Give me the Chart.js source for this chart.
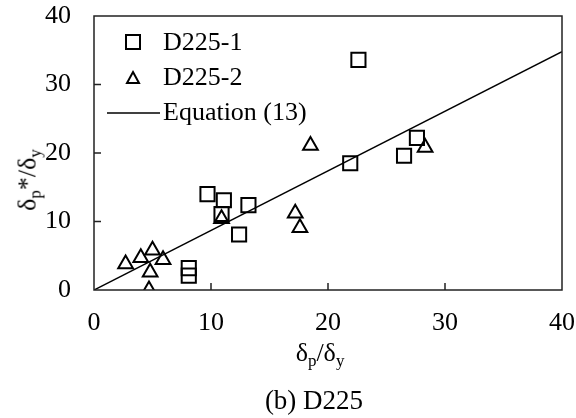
<!DOCTYPE html>
<html>
<head>
<meta charset="utf-8">
<script src="https://cdn.jsdelivr.net/npm/chart.js@4/dist/chart.umd.min.js"></script>
<style>
    body { margin: 0; background: #fff; }
    #wrap { position: relative; width: 576px; height: 418px; font-family: "Liberation Serif", "Times New Roman", serif; color: #000; }
    #chart { position: absolute; left: 0; top: 0; }
    .lbl { position: absolute; font-size: 26px; white-space: nowrap; line-height: 1; }
    .lbl sub { font-size: 17px; vertical-align: -5px; }
    #ytitle { left: 29px; top: 180px; transform: translate(-50%, -50%) rotate(-90deg); }
    #xtitle { left: 320px; top: 354px; transform: translate(-50%, -50%); }
    #caption { left: 314px; top: 400px; transform: translate(-50%, -50%); font-size: 27px; }
</style>
</head>
<body>
<div id="wrap">
    <canvas id="chart" width="576" height="418"></canvas>
    <div class="lbl" id="ytitle">&delta;<sub>p</sub>*/&delta;<sub>y</sub></div>
    <div class="lbl" id="xtitle">&delta;<sub>p</sub>/&delta;<sub>y</sub></div>
    <div class="lbl" id="caption">(b) D225</div>
</div>
<script>
// D225-1 specimens (squares)
const d1X = [9.7, 11.1, 10.9, 13.2, 12.4, 8.1, 8.1, 22.6, 27.6, 21.9, 26.5];
const d1Y = [14.0, 13.1, 11.1, 12.4, 8.1, 3.2, 2.1, 33.6, 22.2, 18.5, 19.6];
// D225-2 specimens (triangles)
const d2X = [2.7, 4.0, 5.0, 5.9, 4.8, 4.7, 10.9, 17.2, 17.6, 18.5, 28.3];
const d2Y = [3.8, 4.7, 5.8, 4.4, 2.6, 0.0, 10.4, 11.2, 9.1, 21.1, 20.8];
// Equation (13) line end points
const eqX = [0, 40];
const eqY = [0, 34.8];

const axisTicks = [0, 10, 20, 30, 40];
const legendLabels = ['D225-1', 'D225-2', 'Equation (13)'];

const toPoints = (xs, ys) => xs.map((x, i) => ({ x: x, y: ys[i] }));
const FONT = '"Liberation Serif", "Times New Roman", serif';

// frame, inward tick marks and legend inside the plot
const framePlugin = {
    id: 'frame',
    afterDraw(chart) {
        const ctx = chart.ctx;
        const a = chart.chartArea;
        const xs = chart.scales.x;
        const ys = chart.scales.y;
        ctx.save();
        ctx.strokeStyle = '#222';
        ctx.lineWidth = 1.5;
        ctx.strokeRect(a.left, a.top, a.right - a.left, a.bottom - a.top);
        ctx.beginPath();
        axisTicks.slice(1, -1).forEach(v => {
            const px = xs.getPixelForValue(v);
            ctx.moveTo(px, a.bottom);
            ctx.lineTo(px, a.bottom - 7);
            const py = ys.getPixelForValue(v);
            ctx.moveTo(a.left, py);
            ctx.lineTo(a.left + 7, py);
        });
        ctx.stroke();

        // legend
        ctx.strokeStyle = '#000';
        ctx.lineWidth = 2;
        ctx.strokeRect(126, 35, 14, 14);
        ctx.beginPath();
        ctx.moveTo(133, 72);
        ctx.lineTo(139, 83);
        ctx.lineTo(127, 83);
        ctx.closePath();
        ctx.stroke();
        ctx.lineWidth = 1.5;
        ctx.beginPath();
        ctx.moveTo(107, 113);
        ctx.lineTo(160, 113);
        ctx.stroke();
        ctx.fillStyle = '#000';
        ctx.font = '26px ' + FONT;
        ctx.textBaseline = 'middle';
        ctx.fillText(legendLabels[0], 163, 43);
        ctx.fillText(legendLabels[1], 163, 78);
        ctx.fillText(legendLabels[2], 163, 113);
        ctx.restore();
    }
};

new Chart(document.getElementById('chart'), {
    type: 'scatter',
    data: {
        datasets: [{
            label: legendLabels[0],
            data: toPoints(d1X, d1Y),
            pointStyle: 'rect',
            pointRadius: 10,
            pointHoverRadius: 10,
            borderColor: '#000',
            backgroundColor: 'rgba(0,0,0,0)',
            borderWidth: 2
        }, {
            label: legendLabels[1],
            data: toPoints(d2X, d2Y),
            pointStyle: 'triangle',
            pointRadius: 8.5,
            pointHoverRadius: 8.5,
            borderColor: '#000',
            backgroundColor: 'rgba(0,0,0,0)',
            borderWidth: 2
        }, {
            type: 'line',
            label: legendLabels[2],
            data: toPoints(eqX, eqY),
            borderColor: '#000',
            borderWidth: 1.5,
            pointRadius: 0,
            fill: false
        }]
    },
    options: {
        responsive: false,
        animation: false,
        layout: { padding: { top: 16, right: 14, left: 0, bottom: 0 } },
        plugins: {
            legend: { display: false },
            tooltip: { enabled: false }
        },
        scales: {
            x: {
                type: 'linear',
                min: 0,
                max: 40,
                afterFit: scale => {
                    scale.height = 128;
                    scale.paddingLeft = 0;
                    scale.paddingRight = 0;
                },
                afterBuildTicks: scale => { scale.ticks = axisTicks.map(v => ({ value: v })); },
                border: { display: false },
                grid: { display: false, drawTicks: false },
                ticks: { color: '#000', padding: 18, font: { family: FONT, size: 26 } }
            },
            y: {
                type: 'linear',
                min: 0,
                max: 40,
                afterFit: scale => {
                    scale.width = 94;
                    scale.paddingTop = 0;
                    scale.paddingBottom = 0;
                },
                afterBuildTicks: scale => { scale.ticks = axisTicks.map(v => ({ value: v })); },
                border: { display: false },
                grid: { display: false, drawTicks: false },
                ticks: { color: '#000', padding: 23, font: { family: FONT, size: 26 } }
            }
        }
    },
    plugins: [framePlugin]
});
</script>
</body>
</html>
